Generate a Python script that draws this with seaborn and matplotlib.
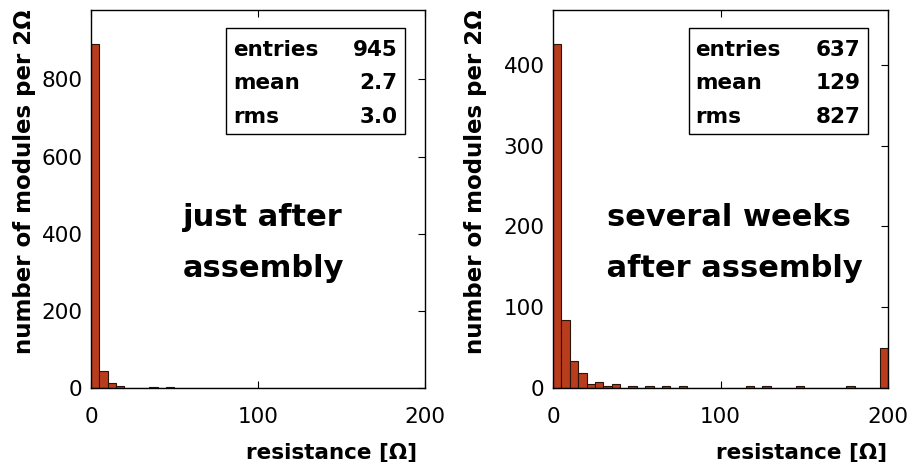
import numpy as np
import pandas as pd
import matplotlib
matplotlib.use("Agg")
import matplotlib.pyplot as plt
import seaborn as sns
from matplotlib.patches import Rectangle

sns.set_theme(style="white")
plt.rcParams['font.family'] = ['DejaVu Sans']

# ---- data (bin width 5 ohm) ----
left_bin_starts = [0, 5, 10, 15, 35, 45]
left_counts = [892, 44, 13, 4, 2, 2]
right_bin_starts = [0, 5, 10, 15, 20, 25, 30, 35, 45, 55, 65, 75, 115, 125, 145, 175, 195]
right_counts = [426, 84, 33, 18, 5, 7, 2, 5, 2, 2, 2, 3, 3, 2, 3, 3, 50]

left_stats = [("entries", "945"), ("mean", "2.7"), ("rms", "3.0")]
right_stats = [("entries", "637"), ("mean", "129"), ("rms", "827")]
left_note = "just after\nassembly"
right_note = "several weeks\n after assembly"
ylabel = "number of modules per 2\u03a9"
xlabel = "resistance [\u03a9]"
xticks = [0, 100, 200]
left_yticks = [0, 200, 400, 600, 800]
right_yticks = [0, 100, 200, 300, 400]

fill = "#b83d1c"
edge = "#2a140a"

fig = plt.figure(figsize=(9.07, 4.62), dpi=100)
axL = fig.add_axes([91/907, 74/462, 334/907, 378/462])
axR = fig.add_axes([553/907, 74/462, 335/907, 378/462])

def panel(ax, starts, counts, ylim, yticks, stats, note, note_x):
    df = pd.DataFrame({"r": np.array(starts, dtype=float) + 2.5,
                       "n": np.array(counts, dtype=float)})
    sns.histplot(data=df, x="r", weights="n", binwidth=5, binrange=(0, 200), ax=ax,
                 color=fill, edgecolor=edge, linewidth=0.8, alpha=1.0)
    ax.set_xlim(0, 200)
    ax.set_ylim(*ylim)
    ax.set_xticks(xticks)
    ax.set_yticks(yticks)
    ax.set_xlabel("")
    ax.set_ylabel("")
    ax.tick_params(axis="both", direction="in", length=5, width=0.8,
                   labelsize=15.5, colors="black",
                   top=True, right=True, bottom=True, left=True)
    ax.tick_params(axis="x", pad=14)
    ax.tick_params(axis="y", pad=6)
    for s in ax.spines.values():
        s.set_visible(True)
        s.set_color("black")
        s.set_linewidth(1.0)
    ax.add_patch(Rectangle((0.405, 0.672), 0.535, 0.28, transform=ax.transAxes,
                           fill=False, edgecolor="black", linewidth=1.0, zorder=5))
    for i, (k, v) in enumerate(stats):
        y = 0.894 - i * 0.088
        ax.text(0.425, y, k, transform=ax.transAxes, ha="left", va="center",
                fontsize=15.5, fontweight="bold", color="black")
        ax.text(0.918, y, v, transform=ax.transAxes, ha="right", va="center",
                fontsize=15.5, fontweight="bold", color="black")
    ax.text(note_x, 0.384, note, transform=ax.transAxes, ha="center", va="center",
            fontsize=22, fontweight="bold", color="black", linespacing=1.95)

panel(axL, left_bin_starts, left_counts, (0, 980), left_yticks, left_stats, left_note, 0.515)
panel(axR, right_bin_starts, right_counts, (0, 468), right_yticks, right_stats, right_note, 0.525)

for xc in (25/907, 475/907):
    fig.text(xc, 0.607, ylabel, rotation=90, ha="center", va="center",
             fontsize=16.5, fontweight="bold", color="black")
for xr in (417/907, 887/907):
    fig.text(xr, 0.022, xlabel, ha="right", va="center",
             fontsize=15.5, fontweight="bold", color="black")

fig.savefig("out.png", dpi=100, facecolor="white")
